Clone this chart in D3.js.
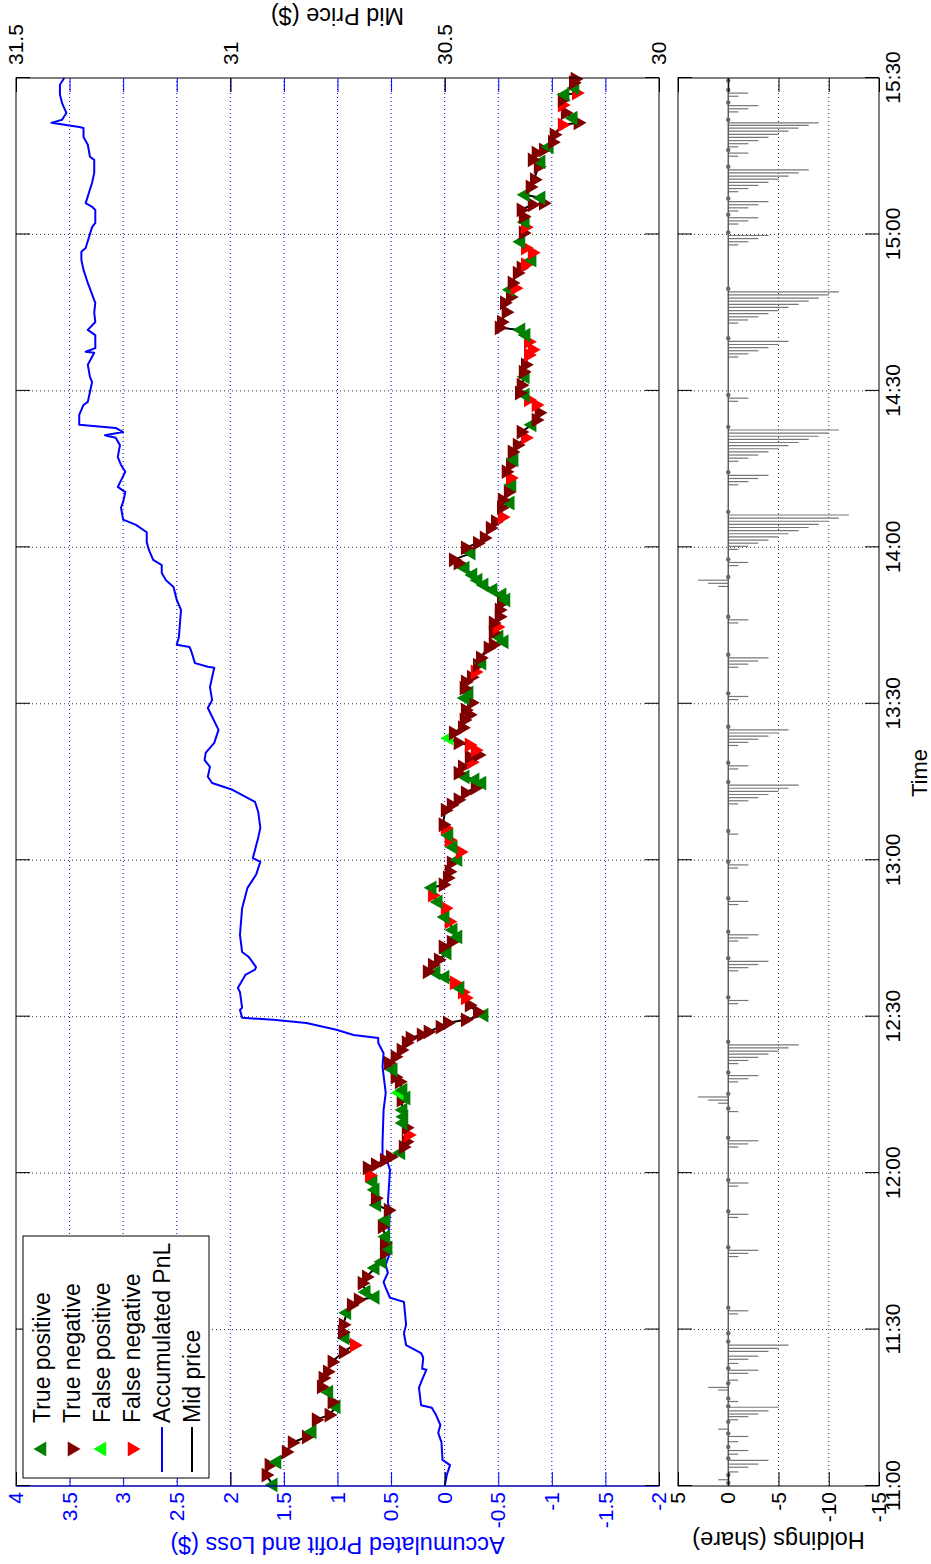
<!DOCTYPE html>
<html>
<head>
<meta charset="utf-8">
<script src="https://cdn.jsdelivr.net/npm/d3@7"></script>
<style>
  html, body { margin: 0; padding: 0; background: #fff; }
  svg { display: block; font-family: "Liberation Sans", Arial, Helvetica, sans-serif; }
</style>
</head>
<body>
<svg id="chart" width="931" height="1564"></svg>
<script>
// ---- tick definitions ----
const timeTickMinutes = [0, 30, 60, 90, 120, 150, 180, 210, 240, 270];
const timeTickLabels  = ["11:00", "11:30", "12:00", "12:30", "13:00", "13:30", "14:00", "14:30", "15:00", "15:30"];
const pnlTicks   = [-2, -1.5, -1, -0.5, 0, 0.5, 1, 1.5, 2, 2.5, 3, 3.5, 4];
const priceTicks = [30, 30.5, 31, 31.5];
const holdTicks  = [-15, -10, -5, 0, 5];

// ---- mid price: [minutes after 11:00, price, prediction outcome] ----
const midPrice = [
  [0.2,30.900,"TP"],[2.1,30.917,"TN"],[4.0,30.910,"TN"],[4.6,30.891,"TP"],[6.5,30.870,"TN"],
  [8.3,30.856,"TN"],[9.4,30.823,"TN"],[10.4,30.809,"TP"],[12.7,30.800,"TN"],[13.6,30.770,"TN"],
  [15.2,30.753,"TP"],[16.1,30.763,"TN"],[18.0,30.770,"TP"],[19.0,30.788,"TN"],[20.7,30.784,"TN"],
  [21.9,30.774,"TN"],[23.8,30.763,"TN"],[25.7,30.737,"TN"],[27.0,30.711,"FN"],[28.4,30.732,"TP"],
  [29.5,30.739,"TN"],[30.9,30.737,"TN"],[33.2,30.728,"TP"],[34.7,30.718,"TN"],[35.7,30.702,"TN"],
  [36.2,30.662,"TP"],[37.2,30.683,"TP"],[38.9,30.693,"TN"],[40.1,30.683,"TN"],[41.8,30.662,"TP"],
  [43.0,30.646,"TP"],[44.7,30.641,"TN"],[45.6,30.632,"TP"],[46.6,30.641,"TN"],[47.8,30.637,"TP"],
  [49.7,30.646,"TN"],[51.0,30.637,"TP"],[52.9,30.632,"TN"],[53.9,30.658,"TP"],[55.2,30.662,"TN"],
  [56.8,30.662,"TP"],[58.3,30.667,"TP"],[59.6,30.676,"FN"],[61.0,30.681,"TN"],[61.6,30.662,"TN"],
  [62.5,30.641,"TN"],[63.1,30.627,"TN"],[63.9,30.602,"TP"],[65.0,30.597,"TN"],[66.0,30.590,"TN"],
  [67.3,30.585,"FN"],[68.7,30.590,"TN"],[69.6,30.597,"TP"],[70.8,30.595,"TP"],[72.1,30.597,"TP"],
  [74.0,30.602,"TN"],[74.4,30.590,"TP"],[75.4,30.606,"FP"],[75.9,30.597,"TP"],[77.5,30.606,"TN"],
  [78.4,30.616,"TN"],[79.8,30.620,"TP"],[81.1,30.632,"TN"],[82.3,30.616,"TN"],[83.6,30.602,"TN"],
  [85.0,30.590,"TN"],[85.9,30.581,"TN"],[86.5,30.555,"TN"],[87.1,30.539,"TN"],[88.0,30.511,"TN"],
  [88.8,30.494,"TN"],[89.4,30.452,"TN"],[90.3,30.408,"TP"],[90.9,30.424,"TN"],[92.2,30.443,"TN"],
  [93.6,30.452,"FN"],[94.7,30.459,"FN"],[95.5,30.464,"TP"],[96.5,30.478,"FN"],[97.6,30.499,"TP"],
  [98.4,30.520,"TP"],[98.6,30.541,"TN"],[99.9,30.529,"TN"],[100.9,30.515,"TN"],[102.2,30.494,"TP"],
  [103.4,30.504,"TN"],[104.3,30.485,"TN"],[105.3,30.469,"TP"],[106.6,30.480,"TP"],[108.2,30.490,"FN"],
  [109.1,30.499,"TP"],[110.8,30.499,"FN"],[112.0,30.515,"TP"],[113.3,30.529,"FN"],[114.7,30.529,"TP"],
  [115.3,30.504,"TN"],[116.6,30.494,"TN"],[117.8,30.490,"TN"],[119.5,30.485,"TN"],[120.1,30.469,"TP"],
  [121.6,30.464,"FN"],[122.5,30.480,"TP"],[123.9,30.490,"FN"],[124.8,30.490,"TP"],[126.2,30.499,"FN"],
  [126.8,30.504,"TN"],[129.6,30.499,"TN"],[130.6,30.485,"TN"],[131.6,30.469,"TN"],[132.9,30.452,"TN"],
  [133.9,30.429,"TN"],[134.8,30.413,"TP"],[135.4,30.429,"TP"],[136.0,30.452,"TP"],[136.7,30.469,"TN"],
  [137.9,30.459,"TN"],[138.8,30.438,"FN"],[139.8,30.443,"TN"],[140.2,30.422,"TN"],[141.1,30.429,"FN"],
  [142.1,30.443,"FN"],[142.5,30.469,"TN"],[143.4,30.490,"FP"],[144.4,30.480,"TN"],[145.4,30.459,"TN"],
  [146.9,30.455,"TN"],[147.9,30.443,"TN"],[148.8,30.452,"TN"],[150.2,30.438,"TN"],[151.1,30.452,"TP"],
  [152.1,30.443,"TP"],[153.0,30.455,"TN"],[154.2,30.452,"TN"],[155.1,30.438,"TN"],[156.1,30.429,"FN"],
  [157.4,30.424,"TN"],[157.8,30.413,"TP"],[158.8,30.417,"TN"],[160.7,30.399,"TN"],[161.3,30.387,"TN"],
  [161.9,30.361,"TP"],[162.8,30.373,"TP"],[163.6,30.387,"TN"],[164.7,30.378,"FN"],[165.5,30.387,"TN"],
  [166.7,30.373,"TN"],[168.0,30.373,"TN"],[169.3,30.368,"TN"],[169.9,30.357,"TP"],[170.9,30.366,"TP"],
  [171.8,30.387,"TP"],[172.8,30.408,"TP"],[173.7,30.422,"TP"],[174.7,30.434,"TP"],[176.0,30.452,"TP"],
  [177.0,30.469,"TN"],[177.6,30.480,"TN"],[178.9,30.438,"TP"],[179.9,30.452,"TN"],[180.8,30.424,"TN"],
  [181.8,30.408,"TN"],[183.7,30.394,"TN"],[184.9,30.382,"TN"],[185.8,30.366,"FN"],[187.6,30.368,"TN"],
  [188.5,30.347,"TP"],[189.1,30.366,"TN"],[190.6,30.352,"TN"],[192.0,30.343,"TP"],[193.3,30.347,"FN"],
  [194.5,30.357,"TN"],[195.8,30.347,"TN"],[196.8,30.338,"TP"],[198.3,30.343,"TN"],[199.6,30.331,"TN"],
  [201.0,30.312,"FN"],[202.1,30.322,"TN"],[203.5,30.296,"TP"],[204.4,30.287,"TN"],[205.8,30.280,"TN"],
  [207.3,30.287,"FN"],[208.3,30.305,"FN"],[209.2,30.312,"TP"],[209.6,30.326,"TN"],[211.1,30.322,"TN"],
  [212.7,30.312,"TP"],[213.6,30.317,"TN"],[215.0,30.312,"TN"],[216.9,30.305,"FN"],[217.9,30.296,"FN"],
  [219.4,30.305,"FN"],[220.7,30.310,"TP"],[221.7,30.322,"TP"],[222.1,30.373,"TN"],[223.2,30.368,"TN"],
  [225.1,30.357,"TN"],[226.9,30.361,"TN"],[228.0,30.347,"TN"],[229.4,30.347,"TP"],[229.7,30.336,"FN"],
  [230.7,30.343,"TN"],[232.6,30.331,"TN"],[233.6,30.322,"TN"],[234.2,30.312,"FN"],[235.1,30.296,"TP"],
  [236.5,30.296,"FN"],[237.4,30.312,"FN"],[238.6,30.322,"TP"],[240.3,30.317,"TN"],[241.4,30.312,"FN"],
  [242.4,30.312,"TP"],[243.4,30.317,"TN"],[244.7,30.322,"TN"],[245.7,30.296,"TN"],[246.0,30.270,"TN"],
  [247.0,30.275,"TP"],[247.6,30.312,"TP"],[249.1,30.301,"TN"],[250.5,30.291,"TN"],[253.0,30.282,"TN"],
  [253.9,30.275,"TP"],[254.3,30.296,"TN"],[255.6,30.287,"TN"],[256.2,30.270,"TN"],[256.8,30.256,"TP"],
  [257.7,30.249,"TN"],[259.1,30.245,"TN"],[261.0,30.226,"FN"],[261.4,30.189,"TN"],[262.3,30.200,"TP"],
  [263.3,30.219,"TN"],[264.8,30.226,"FN"],[265.8,30.226,"TN"],[266.8,30.219,"TP"],[267.1,30.193,"FN"],
  [268.1,30.196,"TP"],[269.1,30.200,"TN"],[269.8,30.196,"TN"]
];

// ---- accumulated profit and loss: [minutes after 11:00, $] ----
const pnl = [
  [0,0.00],[2.1,-0.02],[4.0,-0.05],[5.0,0.02],[8.4,0.03],[10.2,0.06],[11.7,0.04],[13.6,0.08],
  [15.0,0.12],[15.5,0.22],[18.8,0.24],[19.9,0.22],[22.3,0.17],[22.5,0.21],[24.6,0.20],[25.5,0.22],
  [27.0,0.36],[29.3,0.38],[30.9,0.36],[35.3,0.38],[36.1,0.51],[38.0,0.55],[39.1,0.57],[40.9,0.53],
  [42.4,0.55],[44.7,0.51],[46.6,0.53],[52.9,0.51],[54.3,0.53],[60.6,0.51],[61.9,0.53],[62.5,0.58],
  [65.8,0.58],[72.1,0.57],[75.4,0.55],[80.4,0.58],[83.0,0.57],[85.0,0.62],[85.9,0.62],[86.5,0.85],
  [87.5,1.01],[88.8,1.29],[89.4,1.60],[89.8,1.89],[91.3,1.91],[91.7,1.89],[94.7,1.91],[95.5,1.93],
  [98.0,1.86],[99.0,1.77],[99.5,1.76],[101.5,1.83],[102.4,1.89],[105.7,1.91],[110.8,1.89],[114.7,1.84],
  [117.2,1.76],[119.7,1.72],[120.4,1.79],[124.3,1.74],[126.2,1.72],[129.3,1.74],[131.2,1.77],[133.5,1.98],
  [134.8,2.17],[136.0,2.21],[137.9,2.19],[139.2,2.24],[140.6,2.23],[142.5,2.15],[145.0,2.11],[147.5,2.17],
  [149.2,2.21],[150.7,2.17],[153.2,2.19],[155.1,2.17],[156.9,2.15],[157.1,2.21],[157.8,2.33],[159.8,2.36],
  [160.9,2.38],[161.3,2.50],[162.8,2.48],[168.0,2.46],[169.9,2.50],[172.4,2.53],[173.7,2.60],[175.1,2.64],
  [176.6,2.64],[177.6,2.72],[179.5,2.76],[181.0,2.78],[182.9,2.78],[184.3,2.88],[185.3,3.00],[187.6,3.02],
  [188.7,3.00],[190.6,2.98],[191.6,3.05],[194.5,2.98],[195.8,3.02],[197.3,3.05],[199.6,3.03],[201.0,3.07],
  [201.5,3.17],[202.1,3.00],[202.9,3.07],[203.5,3.41],[205.4,3.41],[207.3,3.37],[207.9,3.33],[209.8,3.31],
  [211.7,3.29],[212.7,3.31],[215.0,3.33],[217.3,3.27],[217.5,3.35],[218.2,3.26],[220.7,3.26],[221.7,3.33],
  [223.2,3.26],[225.0,3.27],[226.9,3.26],[227.4,3.27],[230.7,3.33],[233.2,3.37],[235.1,3.39],[236.7,3.39],
  [237.4,3.35],[241.4,3.29],[242.2,3.26],[244.7,3.26],[245.3,3.29],[246.0,3.35],[249.9,3.29],[251.8,3.27],
  [254.3,3.27],[254.9,3.31],[257.2,3.33],[258.7,3.37],[260.4,3.37],[260.6,3.41],[261.4,3.67],[262.0,3.57],
  [263.3,3.53],[265.2,3.57],[266.8,3.59],[268.7,3.59],[270,3.55]
];

// ---- holdings: [minutes after 11:00, shares] ----
const holdings = [
  [0.6,0],[1.2,1],[2.1,0],[2.7,-1],[3.6,-2],[4.2,-3],[4.9,-4],[5.3,0],[6.1,-1],[6.8,-2],[7.5,0],
  [8.5,-1],[9.5,-2],[10.1,0],[10.9,1],[12.3,0],[12.7,-1],[13.3,-2],[13.8,-3],[14.4,-4],[15.1,-5],
  [15.3,0],[16.2,-1],[16.8,0],[18.4,1],[18.9,2],[19.7,0],[20.3,-1],[21.6,-2],[22.2,-3],[22.6,0],
  [23.5,-1],[24.3,-2],[24.9,-3],[25.8,-4],[26.4,-5],[27.0,-6],[27.7,0],[29.3,0],
  [33.0,-1],[33.6,-2],[34.2,0],[44.0,-1],[44.6,-2],[45.2,-3],[45.8,0],[51.5,-1],[52.1,-2],[52.7,0],
  [57.5,-1],[58.1,-2],[58.7,0],[65.0,-1],[65.6,-2],[66.2,-3],[66.8,0],[71.8,-1],[72.4,0],
  [73.4,1],[74.0,2],[74.6,3],[75.2,0],[77.5,-1],[78.1,-2],[78.7,-3],[79.3,0],
  [81.0,-1],[81.6,-2],[82.2,-3],[82.8,-4],[83.4,-5],[84.0,-6],[84.6,-7],[85.2,0],
  [92.5,-1],[93.1,-2],[93.7,0],[98.8,-1],[99.4,-2],[100.0,-3],[100.6,-4],[101.2,0],
  [104.5,-1],[105.1,-2],[105.7,-3],[106.3,0],[111.5,-1],[112.1,-2],[112.7,0],[118.5,-1],[119.1,-2],[119.7,0],
  [125.0,-1],[125.6,0],[130.8,-1],[131.4,-2],[132.0,-3],[132.6,-4],[133.2,-5],[133.8,-6],[134.4,-7],[135.0,0],
  [137.5,-1],[138.1,-2],[138.7,0],[142.0,-1],[142.6,-2],[143.2,-3],[143.8,-4],[144.4,-5],[145.0,-6],[145.6,0],
  [150.8,-1],[151.4,-2],[152.0,0],[157.0,-1],[157.6,-2],[158.2,-3],[158.8,-4],[159.4,0],
  [165.5,-1],[166.1,-2],[166.7,0],[172.5,1],[173.1,2],[173.7,3],[174.3,0],[176.5,-1],[177.1,-2],[177.7,0],
  [179.6,-1],[180.2,-2],[180.8,-3],[181.4,-4],[182.0,-5],[182.6,-6],[183.2,-7],[183.8,-8],[184.4,-9],
  [185.0,-10],[185.6,-11],[186.2,-12],[186.8,0],
  [192.0,-1],[192.6,-2],[193.2,-3],[193.8,-4],[194.4,0],
  [196.5,-1],[197.1,-2],[197.7,-3],[198.3,-4],[198.9,-5],[199.5,-6],[200.1,-7],[200.7,-8],[201.3,-9],
  [201.9,-10],[202.5,-11],[203.1,0],[208.0,-1],[208.6,-2],[209.2,0],
  [216.5,-1],[217.1,-2],[217.7,-3],[218.3,-4],[218.9,-5],[219.5,-6],[220.1,0],
  [223.0,-1],[223.6,-2],[224.2,-3],[224.8,-4],[225.4,-5],[226.0,-6],[226.6,-7],[227.2,-8],[227.8,-9],
  [228.4,-10],[229.0,-11],[229.6,0],[238.0,-1],[238.6,-2],[239.2,-3],[239.8,-4],[240.4,0],
  [242.0,-1],[242.6,-2],[243.2,-3],[243.8,0],[244.5,-1],[245.1,-2],[245.7,-3],[246.3,-4],[246.9,0],
  [248.2,-1],[248.8,-2],[249.4,-3],[250.0,-4],[250.6,-5],[251.2,-6],[251.8,-7],[252.4,-8],[253.0,0],
  [255.0,-1],[255.6,-2],[256.2,0],[256.8,-1],[257.4,-2],[258.0,-3],[258.6,-4],[259.2,-5],[259.8,-6],
  [260.4,-7],[260.9,-8],[261.4,-9],[262.0,0],[263.5,-1],[264.1,-2],[264.7,-3],[265.3,0],
  [266.5,-1],[267.1,-2],[267.7,0],[269.5,0]
];

// ---- legend entries ----
const legendItems = [
  { label: "True positive",   kind: "TP" },
  { label: "True negative",   kind: "TN" },
  { label: "False positive",  kind: "FP" },
  { label: "False negative",  kind: "FN" },
  { label: "Accumulated PnL", kind: "pnl" },
  { label: "Mid price",       kind: "mid" }
];

const outcomeColor = { TP: "#008000", TN: "#800000", FP: "#00ff00", FN: "#ff0000" };
const outcomeUp    = { TP: true, TN: false, FP: true, FN: false };
const BLUE = "#0000ff";
const TICK_FONT = 21;
const LABEL_FONT = 23.5;
const LEGEND_FONT = 23;

// The figure is laid out landscape (1564 x 931) and turned a quarter-turn
// counter-clockwise onto the portrait page.
const svg = d3.select("#chart");
svg.append("rect").attr("width", 931).attr("height", 1564).attr("fill", "#fff");
const fig = svg.append("g").attr("transform", "translate(0,1564) rotate(-90)");

const mainBox = { left: 78, right: 1486, top: 16, bottom: 659 };
const holdBox = { left: 78, right: 1486, top: 678, bottom: 879 };

const x      = d3.scaleLinear().domain([0, 270]).range([mainBox.left, mainBox.right]);
const yPnl   = d3.scaleLinear().domain([-2, 4]).range([mainBox.bottom, mainBox.top]);
const yPrice = d3.scaleLinear().domain([30, 31.5]).range([mainBox.bottom, mainBox.top]);
const yHold  = d3.scaleLinear().domain([-15, 5]).range([holdBox.bottom, holdBox.top]);

const fmt = d => String(d);
const TICK = 14;

function styleAxis(g, color) {
  g.select(".domain").remove();
  g.selectAll(".tick line").attr("stroke", color).attr("stroke-width", 1);
  g.selectAll(".tick text").attr("fill", color).attr("font-size", TICK_FONT)
    .attr("font-family", "Liberation Sans, Arial, sans-serif");
}

// ================= main axes =================
const main = fig.append("g");
main.append("rect")
  .attr("x", mainBox.left).attr("y", mainBox.top)
  .attr("width", mainBox.right - mainBox.left).attr("height", mainBox.bottom - mainBox.top)
  .attr("fill", "#fff");

// grid
main.append("g").selectAll("line").data(pnlTicks.slice(1, -1)).join("line")
  .attr("x1", mainBox.left).attr("x2", mainBox.right)
  .attr("y1", d => yPnl(d)).attr("y2", d => yPnl(d))
  .attr("stroke", BLUE).attr("stroke-width", 1).attr("stroke-dasharray", "1,3");
main.append("g").selectAll("line").data(timeTickMinutes.slice(1, -1)).join("line")
  .attr("x1", d => x(d)).attr("x2", d => x(d))
  .attr("y1", mainBox.top).attr("y2", mainBox.bottom)
  .attr("stroke", "#333").attr("stroke-width", 1).attr("stroke-dasharray", "1,3");

// accumulated PnL
main.append("path").datum(pnl)
  .attr("fill", "none").attr("stroke", BLUE).attr("stroke-width", 2)
  .attr("stroke-linejoin", "round")
  .attr("d", d3.line().x(d => x(d[0])).y(d => yPnl(d[1])));

// mid price line
main.append("path").datum(midPrice)
  .attr("fill", "none").attr("stroke", "#000").attr("stroke-width", 2)
  .attr("stroke-linejoin", "round")
  .attr("d", d3.line().x(d => x(d[0])).y(d => yPrice(d[1])));

// prediction markers
const tri = d3.symbol().type(d3.symbolTriangle).size(95);
main.append("g").selectAll("path").data(midPrice).join("path")
  .attr("d", tri)
  .attr("transform", d => `translate(${x(d[0])},${yPrice(d[1])}) rotate(${outcomeUp[d[2]] ? 0 : 180})`)
  .attr("fill", d => outcomeColor[d[2]]);

// frame
main.append("rect")
  .attr("x", mainBox.left).attr("y", mainBox.top)
  .attr("width", mainBox.right - mainBox.left).attr("height", mainBox.bottom - mainBox.top)
  .attr("fill", "none").attr("stroke", "#000").attr("stroke-width", 1);
main.append("line")
  .attr("x1", mainBox.left).attr("x2", mainBox.left)
  .attr("y1", mainBox.top).attr("y2", mainBox.bottom)
  .attr("stroke", BLUE).attr("stroke-width", 1.2);

// PnL axis (left, blue) with mirrored ticks on the right
main.append("g").attr("transform", `translate(${mainBox.left},0)`)
  .call(d3.axisLeft(yPnl).tickValues(pnlTicks).tickFormat(fmt).tickSize(-TICK).tickPadding(6))
  .call(g => styleAxis(g, BLUE));
main.append("g").attr("transform", `translate(${mainBox.right},0)`)
  .call(d3.axisRight(yPnl).tickValues(pnlTicks).tickFormat("").tickSize(-TICK))
  .call(g => styleAxis(g, BLUE));
// price axis (right, black)
main.append("g").attr("transform", `translate(${mainBox.right},0)`)
  .call(d3.axisRight(yPrice).tickValues(priceTicks).tickFormat(fmt).tickSize(-TICK).tickPadding(13))
  .call(g => styleAxis(g, "#000"));
main.append("g").attr("transform", `translate(${mainBox.left},0)`)
  .call(d3.axisLeft(yPrice).tickValues(priceTicks).tickFormat("").tickSize(-TICK))
  .call(g => styleAxis(g, "#000"));
// time ticks on the main axes (no labels)
main.append("g").attr("transform", `translate(0,${mainBox.bottom})`)
  .call(d3.axisBottom(x).tickValues(timeTickMinutes).tickFormat("").tickSize(-TICK))
  .call(g => styleAxis(g, "#000"));
main.append("g").attr("transform", `translate(0,${mainBox.top})`)
  .call(d3.axisTop(x).tickValues(timeTickMinutes).tickFormat("").tickSize(-TICK))
  .call(g => styleAxis(g, "#000"));

// axis titles
main.append("text")
  .attr("transform", `translate(27,${(mainBox.top + mainBox.bottom) / 2}) rotate(-90)`)
  .attr("text-anchor", "middle").attr("fill", BLUE).attr("font-size", LABEL_FONT)
  .text("Accumulated Profit and Loss ($)");
main.append("text")
  .attr("transform", `translate(1556,${(mainBox.top + mainBox.bottom) / 2}) rotate(-90)`)
  .attr("text-anchor", "middle").attr("fill", "#000").attr("font-size", LABEL_FONT)
  .text("Mid Price ($)");

// legend
const leg = main.append("g");
leg.append("rect").attr("x", 86).attr("y", 23).attr("width", 242).attr("height", 186)
  .attr("fill", "#fff").attr("stroke", "#000").attr("stroke-width", 1);
const rows = leg.selectAll("g.row").data(legendItems).join("g")
  .attr("class", "row")
  .attr("transform", (d, i) => `translate(0,${42 + i * 30})`);
rows.filter(d => d.kind === "pnl" || d.kind === "mid").append("line")
  .attr("x1", 92).attr("x2", 137).attr("y1", 0).attr("y2", 0)
  .attr("stroke", d => d.kind === "pnl" ? BLUE : "#000").attr("stroke-width", 2);
rows.filter(d => outcomeColor[d.kind]).append("path")
  .attr("d", tri)
  .attr("transform", d => `translate(115,0) rotate(${outcomeUp[d.kind] ? 0 : 180})`)
  .attr("fill", d => outcomeColor[d.kind]);
rows.append("text").attr("x", 141).attr("y", 0).attr("dy", "0.35em")
  .attr("font-size", LEGEND_FONT).attr("fill", "#000").text(d => d.label);

// ================= holdings axes =================
const hold = fig.append("g");
hold.append("rect")
  .attr("x", holdBox.left).attr("y", holdBox.top)
  .attr("width", holdBox.right - holdBox.left).attr("height", holdBox.bottom - holdBox.top)
  .attr("fill", "#fff");
hold.append("g").selectAll("line").data([-10, -5]).join("line")
  .attr("x1", holdBox.left).attr("x2", holdBox.right)
  .attr("y1", d => yHold(d)).attr("y2", d => yHold(d))
  .attr("stroke", "#333").attr("stroke-width", 1).attr("stroke-dasharray", "1,3");
hold.append("g").selectAll("line").data(timeTickMinutes.slice(1, -1)).join("line")
  .attr("x1", d => x(d)).attr("x2", d => x(d))
  .attr("y1", holdBox.top).attr("y2", holdBox.bottom)
  .attr("stroke", "#333").attr("stroke-width", 1).attr("stroke-dasharray", "1,3");

// stems
hold.append("g").selectAll("line").data(holdings.filter(d => d[1] !== 0)).join("line")
  .attr("x1", d => x(d[0])).attr("x2", d => x(d[0]))
  .attr("y1", yHold(0)).attr("y2", d => yHold(d[1]))
  .attr("stroke", "#777").attr("stroke-width", 1.2);
hold.append("line")
  .attr("x1", holdBox.left).attr("x2", holdBox.right)
  .attr("y1", yHold(0)).attr("y2", yHold(0))
  .attr("stroke", "#555").attr("stroke-width", 1.4);
hold.append("g").selectAll("circle").data(holdings.filter(d => d[1] === 0)).join("circle")
  .attr("cx", d => x(d[0])).attr("cy", yHold(0)).attr("r", 2.2)
  .attr("fill", "#666");

hold.append("rect")
  .attr("x", holdBox.left).attr("y", holdBox.top)
  .attr("width", holdBox.right - holdBox.left).attr("height", holdBox.bottom - holdBox.top)
  .attr("fill", "none").attr("stroke", "#000").attr("stroke-width", 1);

hold.append("g").attr("transform", `translate(${holdBox.left},0)`)
  .call(d3.axisLeft(yHold).tickValues(holdTicks).tickFormat(fmt).tickSize(-TICK).tickPadding(6))
  .call(g => styleAxis(g, "#000"));
hold.append("g").attr("transform", `translate(${holdBox.right},0)`)
  .call(d3.axisRight(yHold).tickValues(holdTicks).tickFormat("").tickSize(-TICK))
  .call(g => styleAxis(g, "#000"));
hold.append("g").attr("transform", `translate(0,${holdBox.bottom})`)
  .call(d3.axisBottom(x).tickValues(timeTickMinutes).tickFormat((d, i) => timeTickLabels[i]).tickSize(-TICK).tickPadding(6))
  .call(g => styleAxis(g, "#000"));
hold.append("g").attr("transform", `translate(0,${holdBox.top})`)
  .call(d3.axisTop(x).tickValues(timeTickMinutes).tickFormat("").tickSize(-TICK))
  .call(g => styleAxis(g, "#000"));

hold.append("text")
  .attr("transform", `translate(32,${(holdBox.top + holdBox.bottom) / 2}) rotate(-90)`)
  .attr("text-anchor", "middle").attr("fill", "#000").attr("font-size", LABEL_FONT)
  .text("Holdings (share)");
hold.append("text")
  .attr("x", 791).attr("y", 927)
  .attr("text-anchor", "middle").attr("fill", "#000").attr("font-size", 22)
  .text("Time");
</script>
</body>
</html>
